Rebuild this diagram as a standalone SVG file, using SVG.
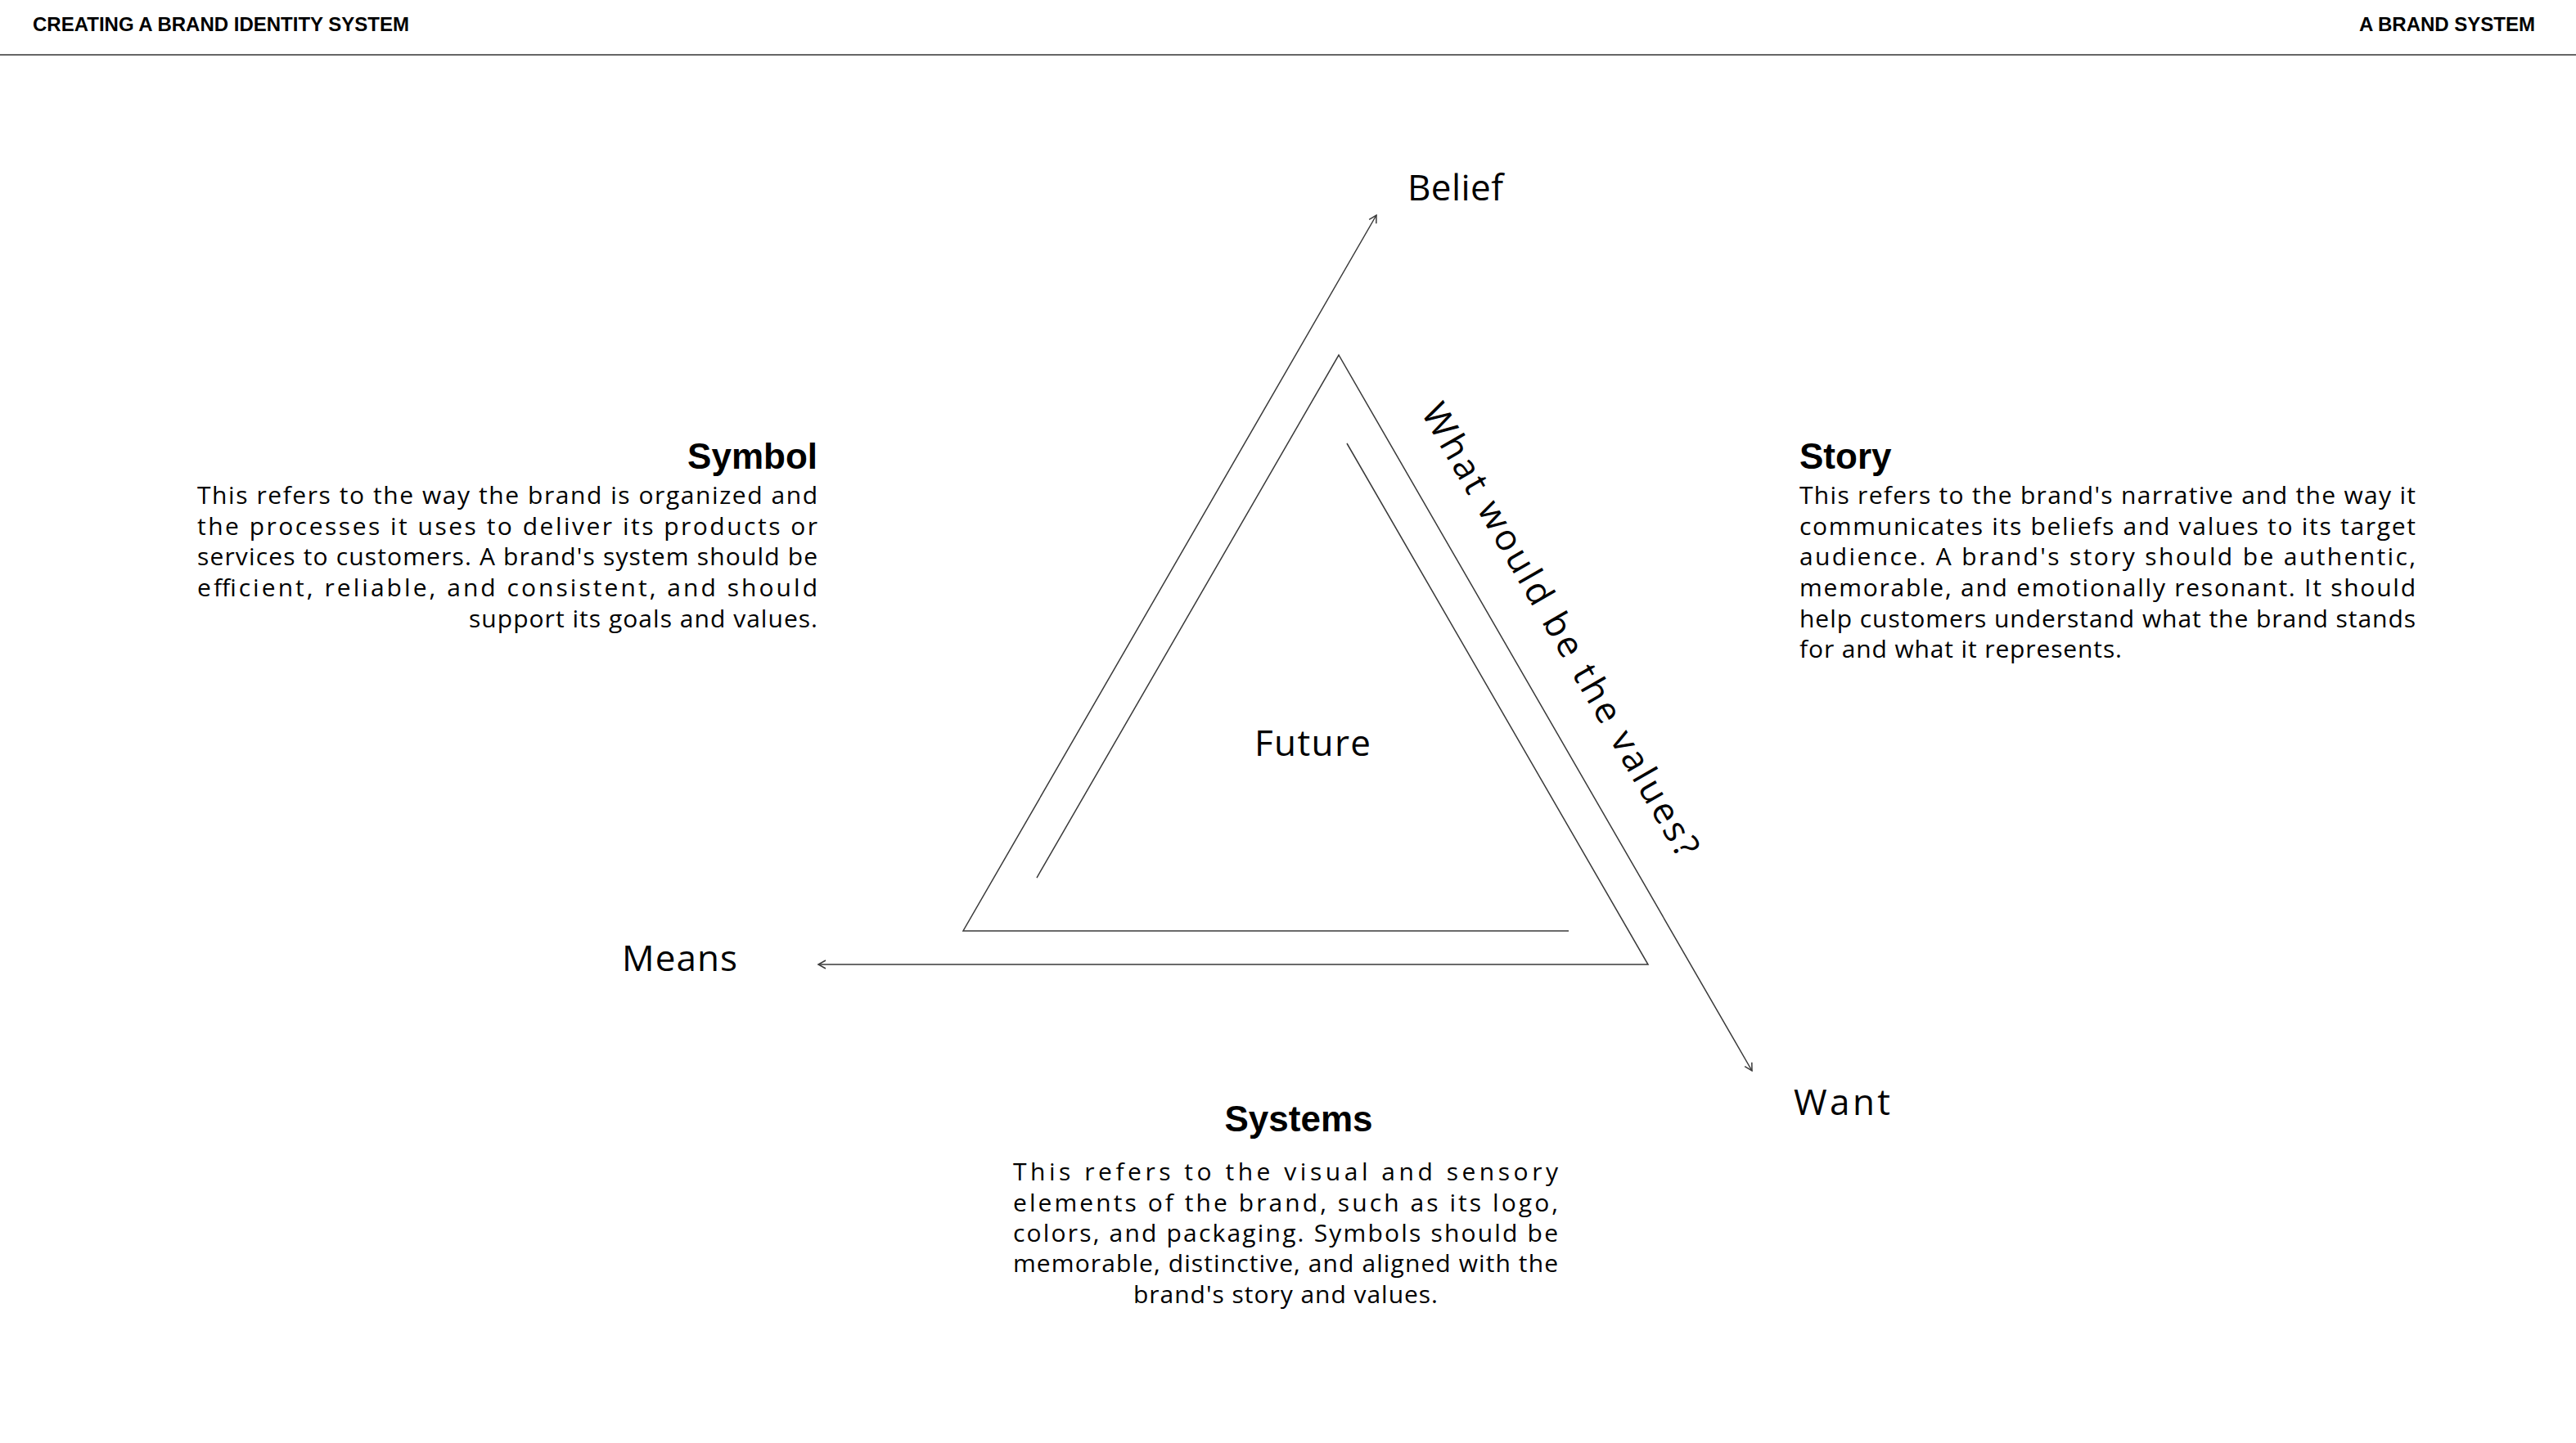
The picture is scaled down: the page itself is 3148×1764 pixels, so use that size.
<svg xmlns="http://www.w3.org/2000/svg" width="3148" height="1764" viewBox="0 0 3148 1764">
<style>
.hdr{font-family:"Liberation Sans",Arial,sans-serif;font-weight:700;font-size:24px;fill:#000}
.lbl{font-family:"Open Sans","Liberation Sans",sans-serif;font-size:44px;fill:#000}
.h2{font-family:"Liberation Sans",Arial,sans-serif;font-weight:700;font-size:44px;fill:#000}
.body{font-family:"Open Sans","Liberation Sans",sans-serif;font-size:30px;fill:#000}
.ln{fill:none;stroke:#3a3a3a;stroke-width:1.5}
</style>
<defs>
<marker id="arr" markerUnits="userSpaceOnUse" markerWidth="16" markerHeight="16" refX="12" refY="6" orient="auto" viewBox="0 0 16 12">
<path d="M3,1 L12,6 L3,11" fill="none" stroke="#3a3a3a" stroke-width="1.5"/>
</marker>
</defs>
<rect width="3148" height="1764" fill="#fff"/>
<g id="header">
<text class="hdr" x="40" y="38">CREATING A BRAND IDENTITY SYSTEM</text>
<text class="hdr" x="3098" y="38" text-anchor="end">A BRAND SYSTEM</text>
<line x1="0" y1="67" x2="3148" y2="67" stroke="#666" stroke-width="2"/>
</g>
<g id="connectors">
<path class="ln" d="M1917,1138 H1177 L1682,263" marker-end="url(#arr)"/>
<path class="ln" d="M1267,1073 L1636,434 L2141,1309" marker-end="url(#arr)"/>
<path class="ln" d="M1646,542 L2014,1179 H1000" marker-end="url(#arr)"/>
</g>
<g id="belief"><text class="lbl" x="1720" y="245" textLength="117">Belief</text></g>
<g id="means"><text class="lbl" x="760" y="1187" textLength="141">Means</text></g>
<g id="want"><text class="lbl" x="2192" y="1363" textLength="118">Want</text></g>
<g id="future"><text class="lbl" x="1604" y="924" text-anchor="middle" textLength="142">Future</text></g>
<g id="values-question"><text class="lbl" transform="translate(1736,504) rotate(60)" x="0" y="0" font-size="49" textLength="632">What would be the values?</text></g>
<g id="symbol">
<text class="h2" x="999" y="573" text-anchor="end">Symbol</text>
<text class="body" x="241" y="616" textLength="758">This refers to the way the brand is organized and</text>
<text class="body" x="241" y="654" textLength="758">the processes it uses to deliver its products or</text>
<text class="body" x="241" y="691" textLength="758">services to customers. A brand's system should be</text>
<text class="body" x="241" y="729" textLength="758">efficient, reliable, and consistent, and should</text>
<text class="body" x="999" y="767" text-anchor="end" textLength="426">support its goals and values.</text>
</g>
<g id="story">
<text class="h2" x="2199" y="573">Story</text>
<text class="body" x="2199" y="616" textLength="753">This refers to the brand's narrative and the way it</text>
<text class="body" x="2199" y="654" textLength="753">communicates its beliefs and values to its target</text>
<text class="body" x="2199" y="691" textLength="753">audience. A brand's story should be authentic,</text>
<text class="body" x="2199" y="729" textLength="753">memorable, and emotionally resonant. It should</text>
<text class="body" x="2199" y="767" textLength="753">help customers understand what the brand stands</text>
<text class="body" x="2199" y="804" textLength="394">for and what it represents.</text>
</g>
<g id="systems">
<text class="h2" x="1587" y="1383" text-anchor="middle">Systems</text>
<text class="body" x="1238" y="1443" textLength="666">This refers to the visual and sensory</text>
<text class="body" x="1238" y="1481" textLength="666">elements of the brand, such as its logo,</text>
<text class="body" x="1238" y="1518" textLength="666">colors, and packaging. Symbols should be</text>
<text class="body" x="1238" y="1555" textLength="666">memorable, distinctive, and aligned with the</text>
<text class="body" x="1571" y="1593" text-anchor="middle" textLength="372">brand's story and values.</text>
</g>
</svg>
